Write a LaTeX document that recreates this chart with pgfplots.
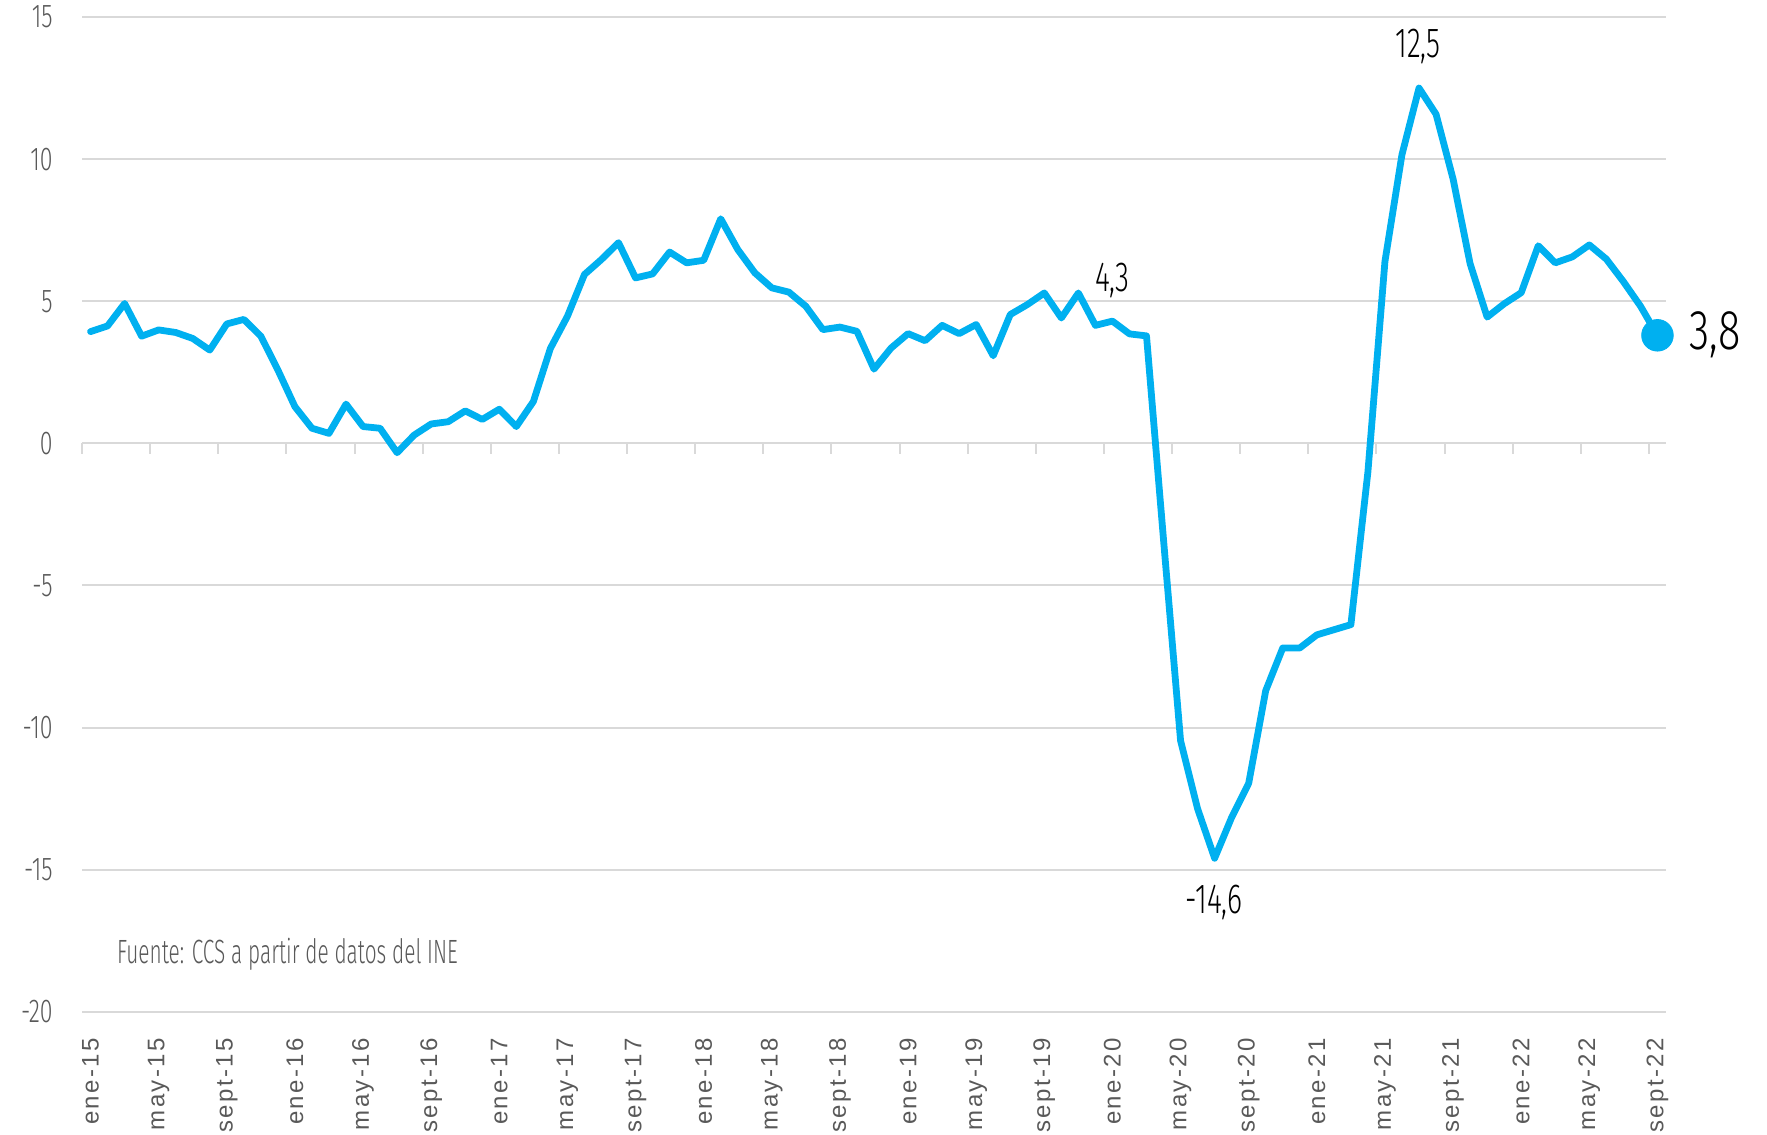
\documentclass[border=0pt]{standalone}
\usepackage{pgfplots}
\pgfplotsset{compat=1.18}
\usepackage{fontspec}
\setmainfont{Liberation Sans}
\IfFontExistsTF{Fira Sans Light}
  {\newfontfamily\condfont{Fira Sans Light}[FakeStretch=0.62]
   \newfontfamily\ytfont{Fira Sans Light}[FakeStretch=0.7]
   \newfontfamily\annfont{Fira Sans Light}[FakeStretch=0.68]
   \newfontfamily\bigfont{Fira Sans Light}[FakeStretch=0.74]}
  {\newfontfamily\condfont{Fira Sans}[FakeStretch=0.62]
   \newfontfamily\ytfont{Fira Sans}[FakeStretch=0.7]
   \newfontfamily\annfont{Fira Sans}[FakeStretch=0.68]
   \newfontfamily\bigfont{Fira Sans}[FakeStretch=0.74]}
\newfontfamily\tickfont{Liberation Sans}[LetterSpace=10]
\definecolor{linecol}{HTML}{00B0F0}
\definecolor{gridc}{HTML}{D9D9D9}
\definecolor{labc}{HTML}{595959}
\begin{document}
\begin{tikzpicture}
\useasboundingbox (-41pt,-61.5pt) rectangle (842.2pt,505.7pt);
\begin{axis}[at={(0,0)}, anchor=south west, scale only axis,
  width=791.7pt, height=497.2pt,
  xmin=-0.5, xmax=92.5, ymin=-20, ymax=15,
  axis line style={draw=none},
  ytick={-20,-15,...,15}, yticklabels={-20,-15,-10,-5,0,5,10,15},
  ymajorgrids, grid style={gridc, line width=1pt},
  major tick length=0pt,
  xtick={0,4,...,92},
  xticklabels={ene-15,may-15,sept-15,ene-16,may-16,sept-16,ene-17,may-17,sept-17,ene-18,may-18,sept-18,ene-19,may-19,sept-19,ene-20,may-20,sept-20,ene-21,may-21,sept-21,ene-22,may-22,sept-22},
  xticklabel style={rotate=90, anchor=east, font=\tickfont\fontsize{12}{12}\selectfont, text=labc, inner sep=0pt},
  yticklabel style={font=\ytfont\fontsize{16.5}{16.5}\selectfont, text=labc, anchor=east, inner sep=0pt},
  xticklabel shift=13pt, yticklabel shift=14.5pt,
  clip=false,
]
\addplot[ycomb, gridc, line width=1pt, no markers, forget plot] coordinates {
(-0.5,-0.39) (3.5,-0.39) (7.5,-0.39) (11.5,-0.39) (15.5,-0.39) (19.5,-0.39)
(23.5,-0.39) (27.5,-0.39) (31.5,-0.39) (35.5,-0.39) (39.5,-0.39) (43.5,-0.39)
(47.5,-0.39) (51.5,-0.39) (55.5,-0.39) (59.5,-0.39) (63.5,-0.39) (67.5,-0.39)
(71.5,-0.39) (75.5,-0.39) (79.5,-0.39) (83.5,-0.39) (87.5,-0.39) (91.5,-0.39)};
\addplot[linecol, line width=3.4pt, line join=round, line cap=round, no markers] coordinates {
(0,3.93) (1,4.13) (2,4.92) (3,3.77) (4,3.99) (5,3.9) (6,3.69) (7,3.28) (8,4.2) (9,4.36)
(10,3.77) (11,2.58) (12,1.29) (13,0.53) (14,0.35) (15,1.38) (16,0.59) (17,0.53) (18,-0.33) (19,0.29)
(20,0.68) (21,0.76) (22,1.14) (23,0.84) (24,1.2) (25,0.59) (26,1.47) (27,3.34) (28,4.47) (29,5.94)
(30,6.47) (31,7.06) (32,5.82) (33,5.96) (34,6.73) (35,6.35) (36,6.44) (37,7.9) (38,6.82) (39,6.0)
(40,5.47) (41,5.32) (42,4.82) (43,4.0) (44,4.09) (45,3.94) (46,2.61) (47,3.35) (48,3.86) (49,3.61)
(50,4.15) (51,3.86) (52,4.18) (53,3.08) (54,4.53) (55,4.88) (56,5.29) (57,4.41) (58,5.29) (59,4.15)
(60,4.3) (61,3.85) (62,3.78) (63,-3.4) (64,-10.46) (65,-12.86) (66,-14.6) (67,-13.16) (68,-11.96) (69,-8.7)
(70,-7.2) (71,-7.2) (72,-6.74) (73,-6.56) (74,-6.38) (75,-1.0) (76,6.4) (77,10.16) (78,12.5) (79,11.58)
(80,9.3) (81,6.32) (82,4.44) (83,4.91) (84,5.3) (85,6.95) (86,6.35) (87,6.56) (88,6.98) (89,6.48)
(90,5.69) (91,4.83) (92,3.8)};
\addplot[only marks, mark=*, mark size=7.9pt, linecol] coordinates {(92,3.8)};
\node[font=\annfont\fontsize{21}{21}\selectfont] at (axis cs:60,5.73) {4,3};
\node[font=\annfont\fontsize{21}{21}\selectfont] at (axis cs:77.94,13.96) {12,5};
\node[font=\annfont\fontsize{21}{21}\selectfont] at (axis cs:65.97,-16.14) {-14,6};
\node[font=\bigfont\fontsize{28}{28}\selectfont, anchor=west, inner sep=0pt] at (axis cs:93.85,3.82) {3,8};
\node[font=\condfont\fontsize{16.8}{16.8}\selectfont, text=labc, anchor=west, inner sep=0pt] at (axis cs:1.54,-17.97) {Fuente: CCS a partir de datos del INE};
\end{axis}
\end{tikzpicture}
\end{document}
